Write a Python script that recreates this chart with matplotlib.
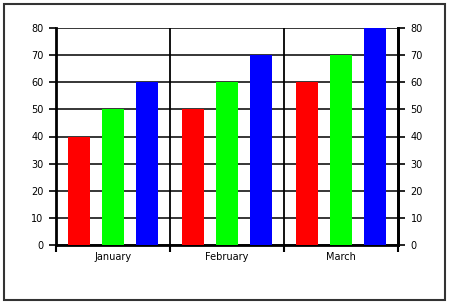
import matplotlib
matplotlib.use("Agg")
import matplotlib.pyplot as plt
from matplotlib.patches import Rectangle
import numpy as np

months = ["January", "February", "March"]
red_vals = [40, 50, 60]
green_vals = [50, 60, 70]
blue_vals = [60, 70, 80]
yticks = [0, 10, 20, 30, 40, 50, 60, 70, 80]

W, H = 449, 303
fig = plt.figure(figsize=(W / 100, H / 100), dpi=100)
ax = fig.add_axes([56 / W, (H - 245) / H, (398 - 56) / W, (245 - 28) / H])

x = np.arange(len(months))
bw = 22 / 114
step = 34 / 114
for off, vals, col in [(-step, red_vals, "#ff0000"), (0, green_vals, "#00ff00"), (step, blue_vals, "#0000ff")]:
    ax.bar(x + off, vals, bw, color=col, zorder=3)

ax.set_xlim(-0.5, 2.5)
ax.set_ylim(0, 80)
ax.set_yticks(yticks)
ax.set_yticklabels([str(v) for v in yticks])
ax.set_xticks(x)
ax.set_xticklabels(months)
ax.tick_params(axis="x", length=0, labelsize=7, pad=5)
ax.set_xticks([-0.5, 0.5, 1.5, 2.5], minor=True)
ax.tick_params(axis="x", which="minor", length=5, width=1.5, direction="out")
ax.tick_params(axis="y", length=5, width=1.2, labelsize=7, pad=4)

ax.grid(axis="y", color="black", linewidth=1.1, zorder=1)
for b in [0.5, 1.5]:
    ax.axvline(b, color="black", linewidth=1.3, zorder=1)

ax.spines["top"].set_visible(False)
for s in ["left", "bottom", "right"]:
    ax.spines[s].set_linewidth(2)

ax2 = ax.twinx()
ax2.set_ylim(0, 80)
ax2.set_yticks(yticks)
ax2.set_yticklabels([str(v) for v in yticks])
ax2.tick_params(axis="y", length=5, width=1.2, labelsize=7, pad=4)
ax2.spines["top"].set_visible(False)
ax2.spines["right"].set_linewidth(2)
ax2.spines["left"].set_visible(False)
ax2.spines["bottom"].set_visible(False)

fig.patches.append(Rectangle((4 / W, 3 / H), (445 - 4) / W, (299 - 3) / H,
                             transform=fig.transFigure, fill=False,
                             edgecolor="#333333", linewidth=1.5))

fig.savefig("out.png", dpi=100)
